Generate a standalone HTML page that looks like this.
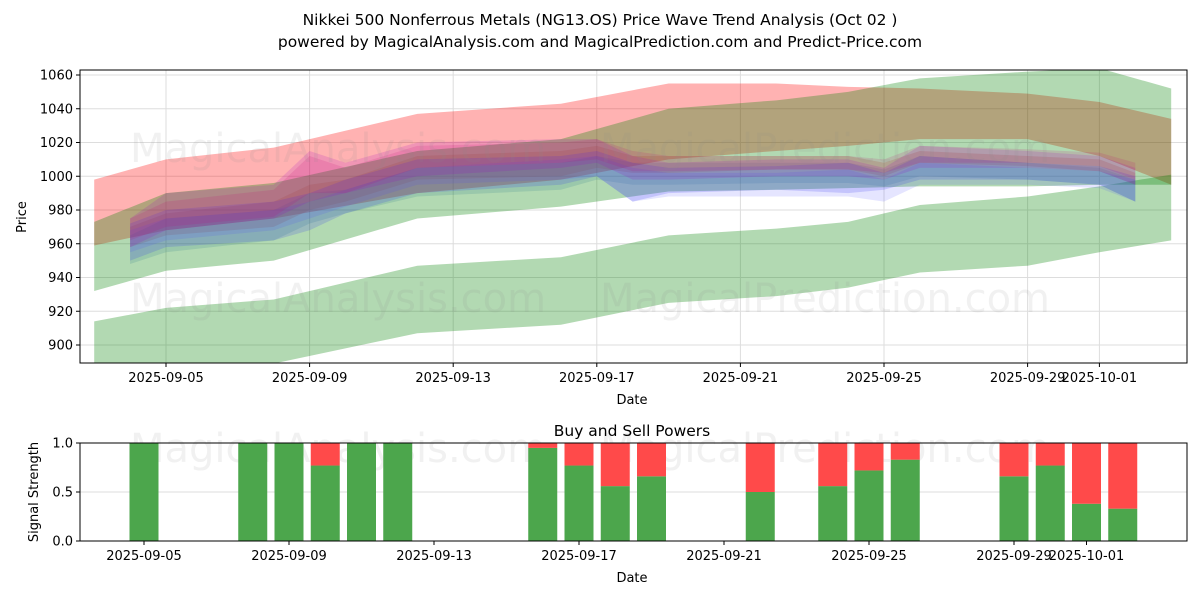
<!DOCTYPE html>
<html><head><meta charset="utf-8"><style>
html,body{margin:0;padding:0;background:#fff;}
svg text{font-family:"DejaVu Sans","Liberation Sans",sans-serif;}
</style></head><body>
<svg id="chart" width="1200" height="600" viewBox="0 0 1200 600" xmlns="http://www.w3.org/2000/svg">
<rect width="1200" height="600" fill="#fff"/>
<text x="600" y="25" font-size="15.5" text-anchor="middle">Nikkei 500 Nonferrous Metals (NG13.OS) Price Wave Trend Analysis (Oct 02 )</text>
<text x="600" y="47" font-size="15.5" text-anchor="middle">powered by MagicalAnalysis.com and MagicalPrediction.com and Predict-Price.com</text>
<g id="topPanel"></g>
<g id="bottomPanel"></g>
</svg>
<script>
const NS='http://www.w3.org/2000/svg';
// ---- top chart data ----
const yTicks=[900,920,940,960,980,1000,1020,1040,1060];
const xTickLabels=['2025-09-05','2025-09-09','2025-09-13','2025-09-17','2025-09-21','2025-09-25','2025-09-29','2025-10-01'];
const wideDates=['2025-09-03','2025-09-05','2025-09-08','2025-09-12','2025-09-16','2025-09-19','2025-09-22','2025-09-24','2025-09-26','2025-09-29','2025-10-01','2025-10-03'];
const redUpper=[998,1010,1017,1037,1043,1055,1055,1053,1052,1049,1044,1034];
const redLower=[959,968,975,990,998,1010,1015,1018,1022,1022,1012,995];
const greenHiUpper=[973,990,996,1015,1022,1040,1045,1050,1058,1062,1064,1052];
const greenHiLower=[932,944,950,975,982,991,992,993,994,994,995,995];
const greenLoUpper=[914,922,927,947,952,965,969,973,983,988,994,1001];
const greenLoLower=[882,880,889,907,912,925,929,934,943,947,955,962];
const bundleDates=['2025-09-04','2025-09-05','2025-09-08','2025-09-09','2025-09-10','2025-09-12','2025-09-16','2025-09-17','2025-09-18','2025-09-19','2025-09-22','2025-09-24','2025-09-25','2025-09-26','2025-09-29','2025-10-01','2025-10-02'];
const purpleUpper=[975,990,995,1015,1008,1020,1022,1022,1012,1008,1010,1010,1005,1018,1015,1012,1005];
const purpleLower=[958,968,975,985,990,1000,1005,1008,998,998,1000,1000,998,1005,1005,1003,995];
const blueUpper=[972,980,985,990,998,1010,1012,1015,1008,1005,1006,1008,1002,1012,1008,1006,1000];
const blueLower=[950,958,962,968,978,990,995,1000,985,990,992,990,992,998,998,995,985];
const brownUpper=[970,978,985,995,998,1012,1015,1018,1012,1012,1012,1012,1008,1015,1012,1010,1002];
const brownLower=[958,965,970,980,985,998,1000,1005,1002,1002,1004,1004,1000,1008,1006,1003,995];
const tealUpper=[965,975,980,990,992,1005,1008,1012,1008,1008,1008,1008,1004,1012,1008,1005,998];
const tealLower=[948,955,962,972,978,988,992,998,995,995,996,996,994,1000,998,995,985];
const magentaUpper=[975,985,992,1012,1005,1018,1020,1022,1015,1012,1012,1012,1010,1018,1016,1014,1008];
const magentaLower=[962,970,976,990,990,1005,1008,1010,1003,1003,1004,1004,1002,1008,1008,1006,998];
const blue2Upper=[968,975,980,985,992,1005,1010,1012,1005,1002,1002,1004,998,1008,1005,1003,998];
const blue2Lower=[955,962,968,975,982,995,998,1000,985,988,988,988,985,995,995,993,985];
// ---- bottom chart data ----
const barDates=['2025-09-05','2025-09-08','2025-09-09','2025-09-10','2025-09-11','2025-09-12','2025-09-16','2025-09-17','2025-09-18','2025-09-19','2025-09-22','2025-09-24','2025-09-25','2025-09-26','2025-09-29','2025-09-30','2025-10-01','2025-10-02'];
const buyPower=[1.0,1.0,1.0,0.77,1.0,1.0,0.95,0.77,0.56,0.66,0.5,0.56,0.72,0.83,0.66,0.77,0.38,0.33];
const sigTicks=[0.0,0.5,1.0];

{
function mk(tag,attrs,parent){const e=document.createElementNS(NS,tag);for(const k in attrs)e.setAttribute(k,attrs[k]);parent.appendChild(e);return e;}
function dayNum(s){return Date.parse(s+'T00:00:00Z')/86400000;}
const D0=dayNum('2025-09-05');
const T={l:80,r:1187,t:70,b:363};
const xT=d=>166+(dayNum(d)-D0)*35.9;
const yT=v=>345-(v-900)*1.6875;
const topG=document.getElementById('topPanel');
const clip=mk('clipPath',{id:'clipTop'},topG);mk('rect',{x:T.l,y:T.t,width:T.r-T.l,height:T.b-T.t},clip);
const grid=mk('g',{},topG);


yTicks.forEach(v=>{mk('line',{x1:T.l,x2:T.r,y1:yT(v),y2:yT(v),stroke:'#ddd','stroke-width':1},grid);});
xTickLabels.forEach(d=>{mk('line',{x1:xT(d),x2:xT(d),y1:T.t,y2:T.b,stroke:'#ddd','stroke-width':1},grid);});
const bands=mk('g',{'clip-path':'url(#clipTop)'},topG);
function band(dates,up,lo,color,op,name){
  let p=dates.map((d,i)=>xT(d)+','+yT(up[i]));
  for(let i=dates.length-1;i>=0;i--)p.push(xT(dates[i])+','+yT(lo[i]));
  const e=mk('polygon',{points:p.join(' '),fill:color,'fill-opacity':op},bands);
  
  
}
band(wideDates,redUpper,redLower,'#ff0000',0.3,'red-band');
band(wideDates,greenLoUpper,greenLoLower,'#008000',0.3,'lower-green-band');
band(wideDates,greenHiUpper,greenHiLower,'#008000',0.3,'upper-green-band');
band(bundleDates,tealUpper,tealLower,'#2a7a8c',0.18,'teal-wave');
band(bundleDates,brownUpper,brownLower,'#a05a28',0.2,'brown-wave');
band(bundleDates,blue2Upper,blue2Lower,'#5050ff',0.15,'light-blue-wave');
band(bundleDates,blueUpper,blueLower,'#3030ee',0.18,'blue-wave');
band(bundleDates,purpleUpper,purpleLower,'#a000c8',0.16,'purple-wave');
band(bundleDates,magentaUpper,magentaLower,'#c80078',0.14,'magenta-wave');
const wm=mk('g',{fill:'#888','fill-opacity':0.12,'font-size':40},topG);


[[130,162,'MagicalAnalysis.com'],[600,162,'MagicalPrediction.com'],[130,312,'MagicalAnalysis.com'],[600,312,'MagicalPrediction.com'],[130,462,'MagicalAnalysis.com'],[600,462,'MagicalPrediction.com']].forEach(a=>{const t=mk('text',{x:a[0],y:a[1]},wm);t.textContent=a[2];});
mk('rect',{x:T.l,y:T.t,width:T.r-T.l,height:T.b-T.t,fill:'none',stroke:'#000','stroke-width':1},topG);
const yax=mk('g',{'font-size':13},topG);


yTicks.forEach(v=>{mk('line',{x1:T.l-4,x2:T.l,y1:yT(v),y2:yT(v),stroke:'#000'},yax);const t=mk('text',{x:T.l-7,y:yT(v)+4.5,'text-anchor':'end'},yax);t.textContent=v;});
const xax=mk('g',{'font-size':13},topG);


xTickLabels.forEach(d=>{mk('line',{x1:xT(d),x2:xT(d),y1:T.b,y2:T.b+4,stroke:'#000'},xax);const t=mk('text',{x:xT(d),y:T.b+19,'text-anchor':'middle'},xax);t.textContent=d;});
let t=mk('text',{x:632,y:404,'text-anchor':'middle','font-size':13},topG);t.textContent='Date';


t=mk('text',{x:0,y:0,'text-anchor':'middle','font-size':13,transform:'translate(26,217) rotate(-90)'},topG);t.textContent='Price';


// bottom axes
const B={l:80,r:1187,t:443,b:541};
const xB=d=>144+(dayNum(d)-D0)*36.25;
const yB=v=>B.b-v*(B.b-B.t);
const bot=document.getElementById('bottomPanel');
mk('line',{x1:B.l,x2:B.r,y1:yB(0.5),y2:yB(0.5),stroke:'#ddd'},bot);
const bars=mk('g',{},bot);
barDates.forEach((d,i)=>{
  const x=xB(d)-14.5;
  const g=mk('rect',{x:x,y:yB(buyPower[i]),width:29,height:yB(0)-yB(buyPower[i]),fill:'#4ca64c'},bars);
  
  
  const r=mk('rect',{x:x,y:yB(1),width:29,height:yB(buyPower[i])-yB(1),fill:'#ff4a4a'},bars);
  
  
});
mk('rect',{x:B.l,y:B.t,width:B.r-B.l,height:B.b-B.t,fill:'none',stroke:'#000'},bot);
const by=mk('g',{'font-size':13},bot);


sigTicks.forEach(v=>{mk('line',{x1:B.l-4,x2:B.l,y1:yB(v),y2:yB(v),stroke:'#000'},by);const tt=mk('text',{x:B.l-7,y:yB(v)+4.5,'text-anchor':'end'},by);tt.textContent=v.toFixed(1);});
const bx=mk('g',{'font-size':13},bot);


xTickLabels.forEach(d=>{mk('line',{x1:xB(d),x2:xB(d),y1:B.b,y2:B.b+4,stroke:'#000'},bx);const tt=mk('text',{x:xB(d),y:B.b+19,'text-anchor':'middle'},bx);tt.textContent=d;});
t=mk('text',{x:632,y:582,'text-anchor':'middle','font-size':13},bot);t.textContent='Date';


t=mk('text',{x:0,y:0,'text-anchor':'middle','font-size':13,transform:'translate(38,492) rotate(-90)'},bot);t.textContent='Signal Strength';


t=mk('text',{x:632,y:436,'text-anchor':'middle','font-size':15.5},bot);t.textContent='Buy and Sell Powers';


}
</script>
</body></html>
